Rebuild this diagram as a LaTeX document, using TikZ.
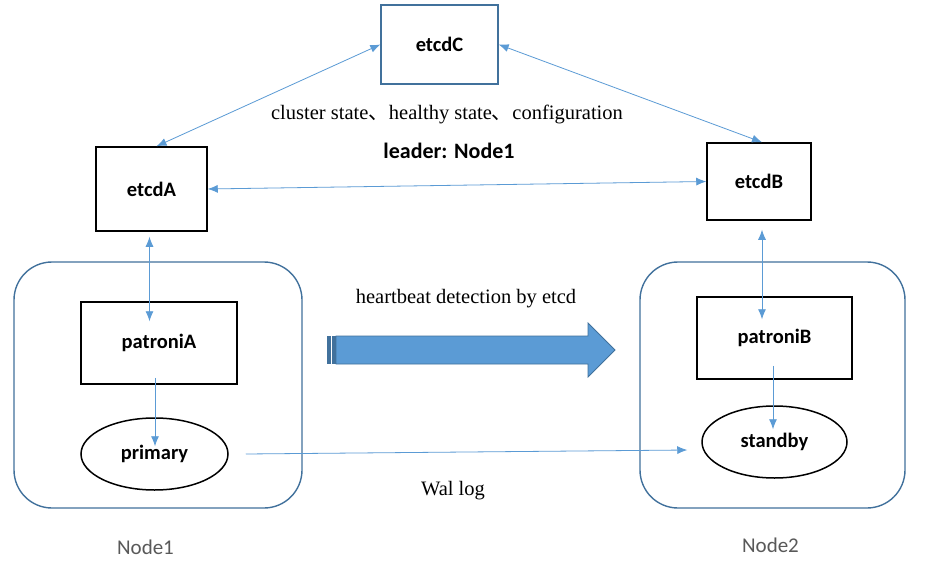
\documentclass[tikz,border=0pt]{standalone}
\usepackage{fontspec}
\setmainfont{Liberation Serif}
\newfontfamily\calfont{Carlito}
\newfontfamily\cjkfont{Noto Sans CJK SC}
\usetikzlibrary{shapes.geometric, arrows.meta, calc}
\definecolor{edgeblue}{HTML}{41719C}
\definecolor{linkblue}{HTML}{5B9BD5}
\definecolor{labelgray}{HTML}{595959}

\begin{document}
\begin{tikzpicture}[x=1pt, y=-1pt,
    boxlabel/.style={font=\calfont\bfseries\fontsize{20.5}{24}\selectfont},
    etcdbox/.style={boxlabel, draw=black, line width=1.5pt, minimum width=111pt, minimum height=84pt},
    hostbox/.style={draw=edgeblue, line width=1.4pt, rounded corners=38pt},
    dbnode/.style={boxlabel, ellipse, draw=black, line width=1.5pt, minimum width=147pt, minimum height=72pt, inner sep=0pt},
    serifnote/.style={font=\fontsize{20.5}{24}\selectfont},
    link/.style={draw=linkblue, line width=0.8pt, -{Latex[length=10pt,width=8pt]}},
    duplex/.style={link, {Latex[length=10pt,width=8pt]}-{Latex[length=10pt,width=8pt]}}]
  \useasboundingbox[fill=white] (0,0) rectangle (926,564);

  % hosts
  \draw[hostbox] (14,262) rectangle (302,508);
  \draw[hostbox] (640,262) rectangle (905,508);
  \node[font=\calfont\fontsize{21}{24}\selectfont, text=labelgray] (node1) at (145.5,547) {Node1};
  \node[font=\calfont\fontsize{21}{24}\selectfont, text=labelgray] (node2) at (770.5,545) {Node2};

  % etcd cluster
  \node[etcdbox, draw=edgeblue, line width=1.3pt, minimum width=117pt, minimum height=79pt] (etcdC) at (439.5,44.5) {etcdC};
  \node[etcdbox] (etcdA) at (151.5,189) {etcdA};
  \node[etcdbox, minimum width=104pt, minimum height=77pt] (etcdB) at (759,181.5) {etcdB};

  % patroni and postgres
  \node[etcdbox, minimum width=156pt, minimum height=82pt] (patroniA) at (159,343) {patroniA};
  \node[dbnode] (primary) at (154.5,454) {primary};
  \node[etcdbox, minimum width=155pt, minimum height=82pt] (patroniB) at (774.5,338) {patroniB};
  \node[dbnode, minimum width=145pt] (standby) at (774.5,442) {standby};

  % notes
  \node[serifnote] (state) at (447,114) {cluster state{\cjkfont 、}healthy state{\cjkfont 、}configuration};
  \node[boxlabel, font=\calfont\bfseries\fontsize{22}{26}\selectfont] (leader) at (449,151) {leader: Node1};
  \node[serifnote] (beat) at (466,299) {heartbeat detection by etcd};
  \node[serifnote] (wal) at (453,491) {Wal log};

  % connectors
  \draw[duplex] (etcdC.west) -- ([xshift=5pt]etcdA.north);
  \draw[duplex] (etcdC.east) -- ([xshift=3pt]etcdB.north);
  \draw[duplex] (etcdA.east) -- (etcdB.west);
  \draw[duplex] ([xshift=-2pt,yshift=-5pt]etcdA.south) -- ([xshift=-9.5pt,yshift=-20pt]patroniA.north);
  \draw[link] ([xshift=-4pt,yshift=7pt]patroniA.south) -- ([xshift=0.5pt,yshift=-29pt]primary.north);
  \draw[duplex] ([xshift=3pt,yshift=-9pt]etcdB.south) -- ([xshift=-12.5pt,yshift=-23pt]patroniB.north);
  \draw[link] ([xshift=-1.5pt,yshift=14pt]patroniB.south) -- ([xshift=-1.5pt,yshift=-24pt]standby.north);
  \draw[link] ([xshift=17pt]primary.east) -- ([xshift=-14pt,yshift=-8pt]standby.west);

  % failover arrow
  \fill[linkblue, draw=edgeblue, line width=0.8pt] (336,336) -- (588,336) -- (588,323) -- (615,350) -- (588,377) -- (588,364) -- (336,364) -- cycle;
  \fill[edgeblue] (327,336) rectangle (331,364);
  \fill[edgeblue] (332,336) rectangle (336,364);
\end{tikzpicture}
\end{document}
